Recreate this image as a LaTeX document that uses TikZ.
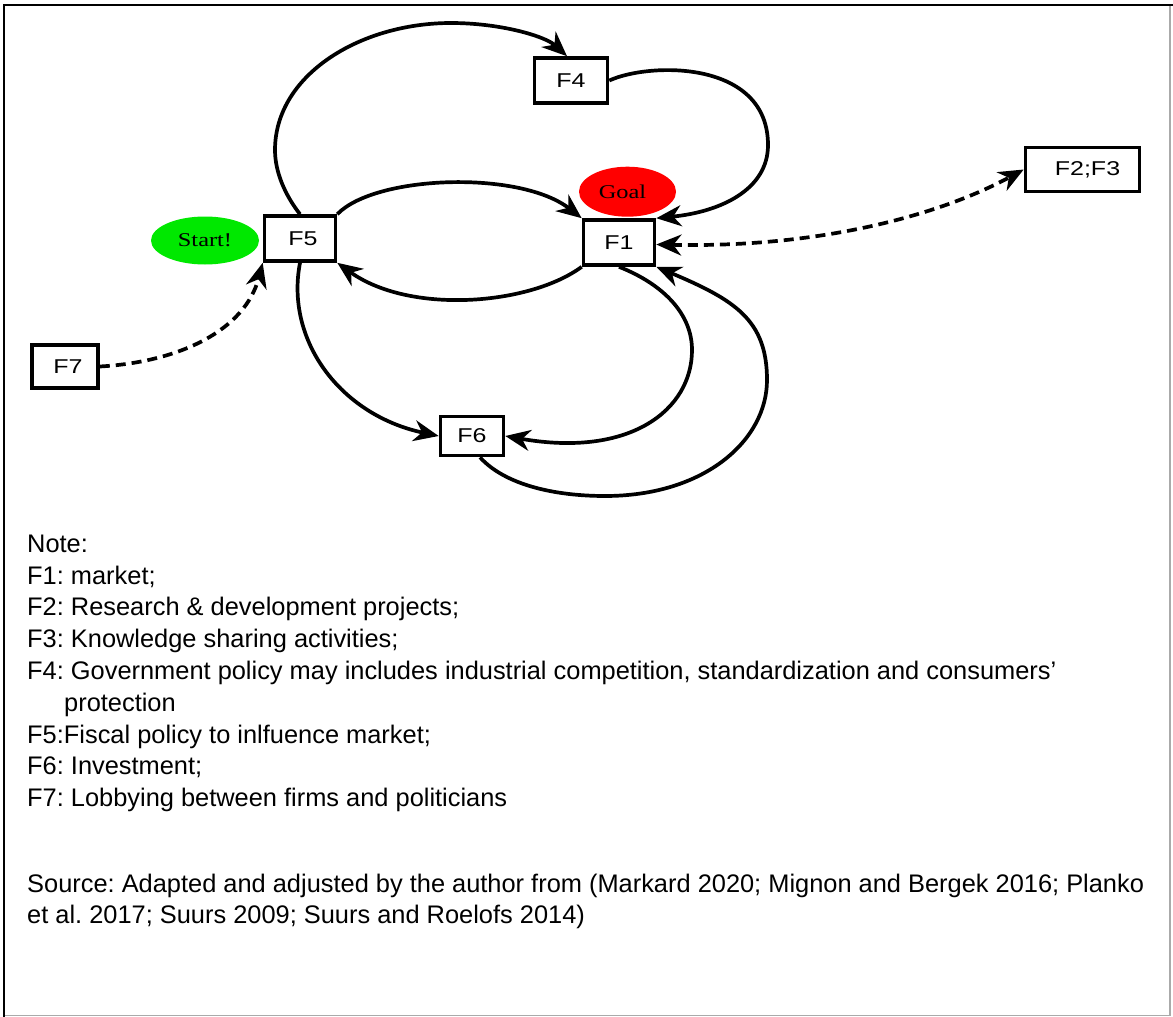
\documentclass[tikz,border=0pt]{standalone}
\usepackage{fontspec}
\setmainfont{Liberation Sans}
\newfontfamily\ovalfont{Liberation Serif}
\usepackage{graphicx}
\usetikzlibrary{arrows.meta,shapes.geometric}

\definecolor{startgreen}{RGB}{0,232,0}
\definecolor{goalred}{RGB}{255,0,0}
\definecolor{framegray}{RGB}{170,170,170}

% box labels are set slightly wide
\newcommand\wide[1]{\scalebox{1.25}[1]{#1}}

\begin{document}
\frenchspacing
\begin{tikzpicture}[x=1pt,y=-1pt,
  box/.style={draw, line width=3.6pt, inner sep=0pt, font=\fontsize{20}{20}\selectfont},
  oval/.style={ellipse, inner sep=0pt, font=\ovalfont\fontsize{19.5}{20}\selectfont},
  tip/.tip={Stealth[length=25pt,width=21pt,inset=8pt]},
  link/.style={line width=3.7pt, -tip},
  dlink/.style={line width=3.7pt, dash pattern=on 10pt off 6pt},
  note/.style={anchor=base west, inner sep=0pt, font=\fontsize{25.4}{30}\selectfont}]

\useasboundingbox (0,0) rectangle (1173,1017);
\fill[white] (0,0) rectangle (1173,1017);

% frame
\draw[framegray, line width=1.6pt] (1170,5) -- (1170,1015.5) -- (4,1015.5);
\draw[line width=2.8pt] (4,1017) -- (4,5) -- (1173,5);

% factor boxes
\node[box, minimum width=73pt, minimum height=45pt] (F4) at (571,80.5) {\wide{F4}};
\node[box, minimum width=71pt, minimum height=45pt] (F5) at (300,238.5) {\hspace{6pt}\wide{F5}};
\node[box, minimum width=71pt, minimum height=45pt] (F1) at (619,242.5) {\wide{F1}};
\node[box, minimum width=114pt, minimum height=44pt] (F23) at (1082.5,169.5) {\hspace{10pt}\wide{F2;F3}};
\node[box, minimum width=66pt, minimum height=43pt] (F7) at (65,366.5) {\hspace{6pt}\wide{F7}};
\node[box, minimum width=63pt, minimum height=39pt] (F6) at (472,436) {\wide{F6}};

% start and goal markers
\node[oval, fill=startgreen, minimum width=108pt, minimum height=48pt] (start) at (205,240.5) {\wide{Start!}};
\node[oval, fill=goalred, minimum width=97pt, minimum height=50pt] (goal) at (627.5,191.7) {\raisebox{-3pt}{\hspace{-10pt}\wide{Goal}}};

% solid influences
\draw[link] (F5.north) .. controls (285,195) and (275,172) .. (275,150)
  .. controls (275,75) and (360,23) .. (451,23)
  .. controls (500,23) and (545,36) .. ([xshift=-4pt]F4.north);
\draw[link] (F4.east) .. controls (650,62) and (768,60) .. (768,145)
  .. controls (768,190) and (720,212) .. (F1.north east);
\draw[link] (F5.north east) .. controls (375,175) and (520,170) .. (F1.north west);
\draw[link] (F1.south west) .. controls (530,305) and (410,315) .. (F5.south east);
\draw[link] (F5.south) .. controls (285,340) and (340,415) .. (F6.west);
\draw[link] (F1.south) .. controls (665,285) and (692,315) .. (692,350)
  .. controls (692,410) and (630,458) .. (F6.east);
\draw[link] ([xshift=8pt]F6.south) .. controls (505,485) and (555,496) .. (605,496)
  .. controls (705,496) and (767,440) .. (767,380)
  .. controls (767,320) and (735,300) .. (F1.south east);

% dashed influences
\draw[dlink, -tip] (F7.east) .. controls (180,362) and (245,330) .. (F5.south west);
\draw[dlink, tip-tip] ([yshift=-2pt]F1.east) .. controls (820,248) and (940,215) .. (F23.west);

% legend
\node[note] (n0) at (27,552.3) {Note:};
\node[note] (n1) at (27,584.1) {F1: market;};
\node[note] (n2) at (27,615.9) {F2: Research \& development projects;};
\node[note] (n3) at (27,647.7) {F3: Knowledge sharing activities;};
\node[note] (n4) at (27,679.5) {F4: Government policy may includes industrial competition, standardization and consumers’};
\node[note] (n4b) at (64,711.3) {protection};
\node[note] (n5) at (27,743.1) {F5:Fiscal policy to inlfuence market;};
\node[note] (n6) at (27,774.9) {F6: Investment;};
\node[note] (n7) at (27,806.7) {F7: Lobbying between firms and politicians};
\node[note] (s1) at (27,892) {Source: Adapted and adjusted by the author from (Markard 2020; Mignon and Bergek 2016; Planko};
\node[note] (s2) at (27,923.5) {et al. 2017; Suurs 2009; Suurs and Roelofs 2014)};

\end{tikzpicture}
\end{document}
